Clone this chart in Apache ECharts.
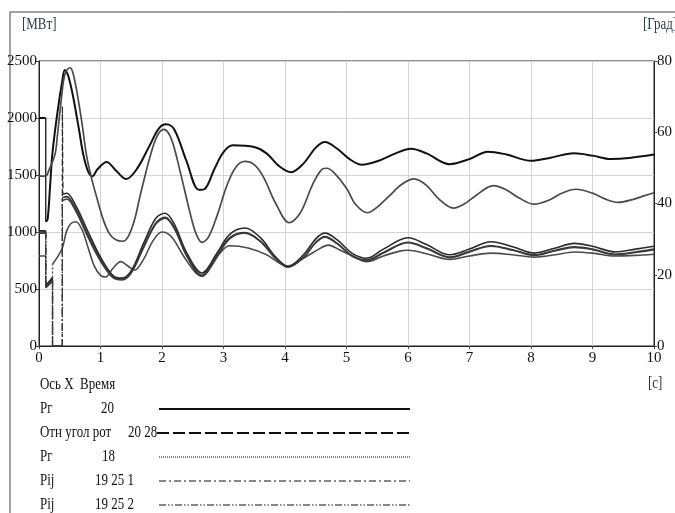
<!DOCTYPE html>
<html>
<head>
<meta charset="utf-8">
<script src="https://cdn.jsdelivr.net/npm/echarts@6/dist/echarts.min.js"></script>
<style>
  html, body { margin: 0; padding: 0; background: #fff; }
  #chart { width: 675px; height: 513px; }
</style>
</head>
<body>
<div id="chart"></div>
<script>
// время, с / значения, МВт (угол — в градусах)
const xTicks = [0, 1, 2, 3, 4, 5, 6, 7, 8, 9, 10];

const tPg20 = [0, 0.11, 0.11, 0.14, 0.18, 0.22, 0.3, 0.38, 0.42, 0.47, 0.55, 0.65, 0.72, 0.8, 0.87, 0.95, 1.1, 1.25, 1.42, 1.6, 1.8, 1.95, 2.07, 2.2, 2.4, 2.6, 2.7, 2.85, 3.0, 3.15, 3.5, 3.7, 3.9, 4.1, 4.3, 4.5, 4.65, 4.85, 5.05, 5.25, 5.5, 5.8, 6.05, 6.3, 6.68, 7.0, 7.3, 7.6, 8.0, 8.3, 8.7, 9.0, 9.3, 9.6, 10];
const vPg20 = [2000, 2000, 1090, 1110, 1400, 1700, 2050, 2330, 2420, 2380, 2200, 1900, 1680, 1530, 1490, 1550, 1615, 1540, 1465, 1560, 1760, 1910, 1945, 1900, 1620, 1370, 1380, 1550, 1700, 1760, 1745, 1690, 1580, 1525, 1600, 1740, 1790, 1730, 1640, 1590, 1620, 1690, 1730, 1690, 1595, 1640, 1705, 1680, 1625, 1650, 1690, 1670, 1640, 1650, 1680];

const tAngle = [0, 0.11, 0.16, 0.26, 0.3, 0.36, 0.42, 0.5, 0.55, 0.62, 0.7, 0.77, 0.85, 0.95, 1.05, 1.15, 1.25, 1.36, 1.45, 1.55, 1.65, 1.8, 1.92, 2.03, 2.15, 2.3, 2.45, 2.55, 2.65, 2.75, 2.9, 3.05, 3.2, 3.35, 3.5, 3.65, 3.85, 4.07, 4.25, 4.45, 4.6, 4.68, 4.8, 5.0, 5.15, 5.34, 5.5, 5.7, 5.9, 6.1, 6.3, 6.5, 6.74, 6.9, 7.1, 7.39, 7.6, 7.8, 8.05, 8.3, 8.5, 8.73, 9.0, 9.2, 9.42, 9.65, 9.85, 10];
const vAngle = [47.7, 47.7, 49.3, 53.8, 59.2, 68.8, 76.2, 78.1, 76.8, 71.0, 62.4, 53.8, 47.4, 41.0, 35.2, 31.4, 29.8, 29.4, 30.7, 35.2, 42.6, 52.8, 58.9, 60.8, 58.2, 48.6, 37.8, 31.7, 29.1, 30.4, 36.8, 44.8, 50.2, 51.8, 50.9, 47.4, 40.0, 34.6, 37.4, 45.4, 49.6, 49.9, 48.6, 44.3, 39.7, 37.4, 39.0, 42.2, 45.4, 46.9, 45.1, 41.3, 38.7, 39.7, 42.2, 45.0, 43.8, 41.6, 39.8, 41.0, 42.9, 44.0, 42.9, 41.3, 40.3, 41.1, 42.2, 43.0];

const tPg18 = [0, 0.11, 0.11, 0.16, 0.22, 0.22, 0.3, 0.38, 0.45, 0.52, 0.6, 0.7, 0.8, 0.9, 1.0, 1.08, 1.2, 1.33, 1.45, 1.55, 1.7, 1.85, 2.0, 2.15, 2.35, 2.55, 2.65, 2.8, 2.95, 3.1, 3.4, 3.7, 3.9, 4.05, 4.3, 4.55, 4.7, 4.9, 5.1, 5.33, 5.6, 5.85, 6.0, 6.3, 6.68, 7.0, 7.35, 7.7, 8.05, 8.4, 8.7, 9.0, 9.37, 9.7, 10];
const vPg18 = [790, 790, 510, 560, 600, 720, 780, 860, 1010, 1075, 1090, 1020, 860, 700, 620, 605, 680, 740, 700, 665, 760, 920, 1000, 960, 790, 640, 615, 700, 820, 880, 860, 800, 730, 700, 770, 850, 885, 840, 790, 740, 790, 830, 840, 810, 760, 790, 815, 800, 780, 800, 825, 815, 790, 795, 805];

const tPij1 = [0, 0.11, 0.11, 0.16, 0.22, 0.22, 0.38, 0.38, 0.39, 0.45, 0.6, 0.8, 1.0, 1.2, 1.35, 1.5, 1.7, 1.9, 2.05, 2.2, 2.4, 2.65, 2.9, 3.1, 3.35, 3.6, 3.85, 4.05, 4.3, 4.5, 4.65, 4.85, 5.1, 5.33, 5.6, 6.0, 6.3, 6.68, 7.0, 7.35, 7.7, 8.05, 8.4, 8.7, 9.0, 9.37, 9.7, 10];
const vPij1 = [1010, 1010, 540, 560, 600, 0, 0, 2100, 1330, 1340, 1230, 1000, 780, 620, 595, 660, 900, 1120, 1165, 1070, 820, 640, 820, 980, 1035, 950, 780, 700, 800, 940, 990, 930, 810, 770, 850, 950, 890, 800, 850, 915, 870, 815, 860, 900, 875, 825, 850, 875];

const tPij2 = [0, 0.11, 0.11, 0.16, 0.22, 0.22, 0.38, 0.38, 0.45, 0.6, 0.8, 1.0, 1.2, 1.35, 1.5, 1.7, 1.9, 2.05, 2.2, 2.4, 2.65, 2.9, 3.1, 3.35, 3.6, 3.85, 4.05, 4.3, 4.5, 4.65, 4.85, 5.1, 5.33, 5.6, 6.0, 6.3, 6.68, 7.0, 7.35, 7.7, 8.05, 8.4, 8.7, 9.0, 9.37, 9.7, 10];
const vPij2 = [1000, 1000, 520, 545, 580, 0, 0, 1300, 1310, 1200, 970, 760, 610, 585, 650, 870, 1080, 1130, 1040, 800, 620, 800, 950, 995, 920, 770, 695, 780, 910, 960, 900, 790, 755, 820, 910, 860, 780, 830, 880, 845, 800, 840, 870, 850, 805, 825, 850];
// шестая кривая (строка легенды обрезана)
const vPij3 = [990, 990, 510, 535, 570, 0, 0, 1275, 1290, 1180, 950, 745, 600, 580, 640, 860, 1070, 1120, 1030, 790, 612, 790, 940, 988, 915, 765, 690, 775, 905, 955, 895, 785, 750, 815, 905, 855, 775, 825, 875, 840, 795, 835, 865, 845, 800, 820, 845];

const legendRows = [
  { name: 'Pг', num: '20', numX: 101, dash: 'solid', width: 2 },
  { name: 'Отн угол рот', num: '20 28', numX: 128, dash: [12, 4], width: 2 },
  { name: 'Pг', num: '18', numX: 102, dash: [1, 1], width: 1 },
  { name: 'Pij', num: '19 25 1', numX: 95, dash: [7, 3, 2, 3], width: 1.2 },
  { name: 'Pij', num: '19 25 2', numX: 95, dash: [7, 2, 1.5, 2, 1.5, 2], width: 1.2 }
];

const FONT = 'Liberation Serif';
const SX = 0.81; // текст в оригинале сжат по ширине

// разрыв линии на скачках: сами скачки рисуются отдельным пунктиром
function split(ts, vs) {
  const main = [], jumps = [];
  for (let i = 0; i < ts.length; i++) {
    if (i > 0 && ts[i] - ts[i - 1] < 0.02) {
      main.push([ts[i], '-']);
      jumps.push([ts[i - 1], vs[i - 1]], [ts[i], vs[i]], [ts[i], '-']);
    }
    main.push([ts[i], vs[i]]);
  }
  return { main, jumps };
}

const curves = [
  { ts: tPg20, vs: vPg20, color: '#111', width: 2, dash: 'solid', axis: 0 },
  { ts: tAngle, vs: vAngle, color: '#4a4a4a', width: 1.7, dash: [12, 4], axis: 1 },
  { ts: tPg18, vs: vPg18, color: '#4a4a4a', width: 1.6, dash: [2, 2], axis: 0 },
  { ts: tPij1, vs: vPij1, color: '#2a2a2a', width: 1.6, dash: [7, 3, 2, 3], axis: 0 },
  { ts: tPij2, vs: vPij2, color: '#333', width: 1.6, dash: [7, 2, 1.5, 2, 1.5, 2], axis: 0 },
  { ts: tPij2, vs: vPij3, color: '#3c3c3c', width: 1.5, dash: [7, 3, 2, 3], axis: 0 }
];

const series = [];
curves.forEach(function (c) {
  const s = split(c.ts, c.vs);
  series.push({
    type: 'line', yAxisIndex: c.axis, data: s.main, smooth: 0.35,
    showSymbol: false, lineStyle: { color: c.color, width: c.width }
  });
  if (s.jumps.length) {
    series.push({
      type: 'line', yAxisIndex: c.axis, data: s.jumps, smooth: false,
      showSymbol: false, lineStyle: { color: c.color, width: 1.3, type: c.dash }
    });
  }
});

function label(x, y, text, fill) {
  return {
    type: 'text', x: x, y: y, scaleX: SX,
    style: { text: text, font: '16px ' + FONT, fill: fill || '#111', textVerticalAlign: 'middle' }
  };
}

const graphic = [
  { type: 'line', shape: { x1: 10, y1: 12, x2: 10, y2: 513 }, style: { stroke: '#444', lineWidth: 1 } },
  { type: 'line', shape: { x1: 10, y1: 12, x2: 675, y2: 12 }, style: { stroke: '#444', lineWidth: 1 } },
  label(22, 25, '[МВт]', '#2f3a44'),
  label(643, 25, '[Град]', '#2f3a44'),
  label(648, 384, '[с]', '#2f3a44'),
  label(40, 385, 'Ось X  Время')
];
legendRows.forEach(function (r, i) {
  const y = 409 + i * 24;
  graphic.push(
    label(40, y, r.name),
    label(r.numX, y, r.num),
    { type: 'line', shape: { x1: i === 1 ? 157 : 159, y1: y, x2: 410, y2: y },
      style: { stroke: '#111', lineWidth: r.width, lineDash: r.dash === 'solid' ? null : r.dash } }
  );
});

const chart = echarts.init(document.getElementById('chart'));
chart.setOption({
  animation: false,
  backgroundColor: '#fff',
  grid: { left: 39, right: 16, top: 61, bottom: 167, show: true, borderColor: '#222', borderWidth: 1 },
  xAxis: {
    type: 'value', min: 0, max: 10, interval: 1,
    axisLine: { lineStyle: { color: '#222' } },
    axisTick: { show: true, length: 3, lineStyle: { color: '#444' } },
    axisLabel: { margin: 5, color: '#111', fontFamily: FONT, fontSize: 15,
      formatter: function (v) { return xTicks.indexOf(v) >= 0 ? String(v) : ''; } },
    splitLine: { show: true, lineStyle: { color: '#d4d4d4', width: 1 } }
  },
  yAxis: [
    {
      type: 'value', min: 0, max: 2500, interval: 500,
      axisLine: { show: true, lineStyle: { color: '#222' } },
      axisTick: { show: true, length: 3, lineStyle: { color: '#444' } },
      axisLabel: { margin: 2, color: '#111', fontFamily: FONT, fontSize: 15,
        formatter: function (v) { return String(v); } },
      splitLine: { show: true, lineStyle: { color: '#d4d4d4', width: 1 } }
    },
    {
      type: 'value', min: 0, max: 80, interval: 20, position: 'right',
      axisLine: { show: true, lineStyle: { color: '#222' } },
      axisTick: { show: true, length: 3, lineStyle: { color: '#444' } },
      axisLabel: { margin: 3, color: '#111', fontFamily: FONT, fontSize: 15,
        formatter: function (v) { return String(v); } },
      splitLine: { show: false }
    }
  ],
  series: series,
  graphic: graphic
});
</script>
</body>
</html>
